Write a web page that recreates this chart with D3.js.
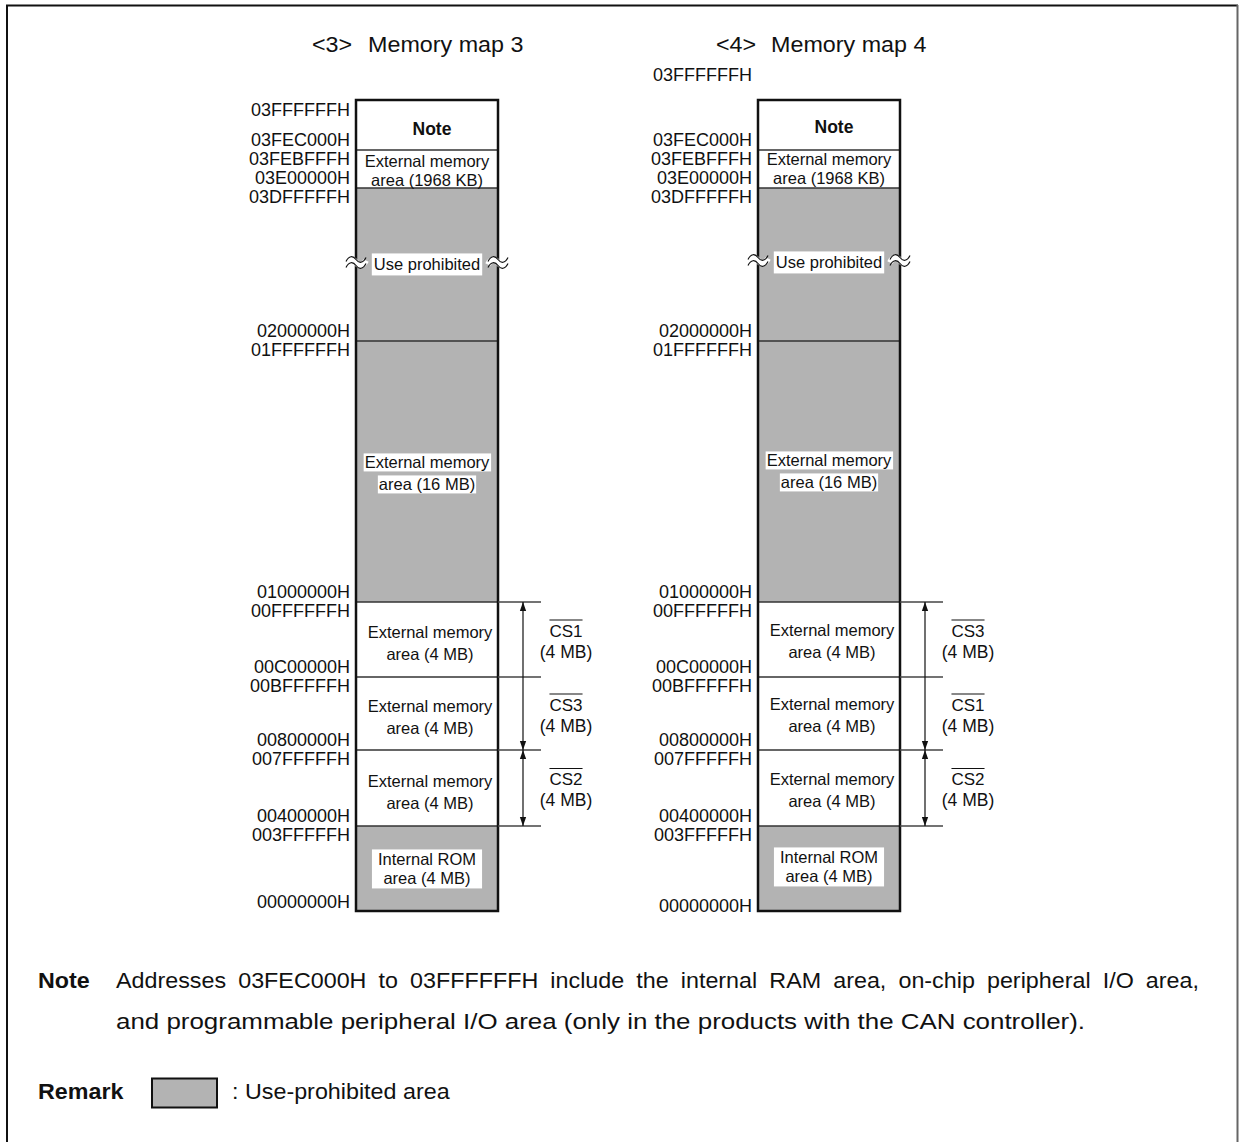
<!DOCTYPE html>
<html><head><meta charset="utf-8">
<script src="https://cdn.jsdelivr.net/npm/d3@7"></script>
<style>
body{margin:0;background:#fff}
text{font-family:"Liberation Sans",Arial,Helvetica,sans-serif;fill:#111}
</style>
</head><body>
<svg id="c" width="1239" height="1142"></svg>
<script>
// ---------------- data ----------------
const mapTags = ["<3>", "<4>"];
const mapNames = ["Memory map 3", "Memory map 4"];
const boundaries = [0x0000000, 0x0400000, 0x0800000, 0x0C00000, 0x1000000, 0x2000000, 0x3E00000, 0x3FEC000, 0x4000000];
const regionStarts = [0x0000000, 0x0400000, 0x0800000, 0x0C00000, 0x1000000, 0x2000000, 0x3E00000, 0x3FEC000];
const regionText = [
  ["Internal ROM", "area (4 MB)"],
  ["External memory", "area (4 MB)"],
  ["External memory", "area (4 MB)"],
  ["External memory", "area (4 MB)"],
  ["External memory", "area (16 MB)"],
  ["Use prohibited"],
  ["External memory", "area (1968 KB)"],
  ["Note"]
];
const regionProhibited = [true, false, false, false, true, true, false, false];
const csMap3 = [null, "CS2", "CS3", "CS1", null, null, null, null];
const csMap4 = [null, "CS2", "CS1", "CS3", null, null, null, null];
const csSizeText = "(4 MB)";
const csArrowSpans = [[0x0400000, 0x0800000], [0x0800000, 0x1000000]];
const noteLabel = "Note";
const noteLine1 = "Addresses 03FEC000H to 03FFFFFFH include the internal RAM area, on-chip peripheral I/O area,";
const noteLine2 = "and programmable peripheral I/O area (only in the products with the CAN controller).";
const remarkLabel = "Remark";
const remarkText = ": Use-prohibited area";

// ---------------- layout ----------------
const svg = d3.select("#c");
const GREY = "#b3b3b3";
const SX = 1.06; // horizontal stretch to mimic the wider original typeface
const hex = v => v.toString(16).toUpperCase().padStart(8, "0") + "H";

// Non-linear (piecewise) address scale - the memory map is drawn compressed
const y = d3.scaleLinear().domain(boundaries).range([911, 826, 750, 677, 602, 341, 188, 150, 100]);

// outer frame
svg.append("line").attr("x1", 7).attr("x2", 7).attr("y1", 5).attr("y2", 1142).attr("stroke", "#111").attr("stroke-width", 2);
svg.append("line").attr("x1", 6).attr("x2", 1238).attr("y1", 5.5).attr("y2", 5.5).attr("stroke", "#111").attr("stroke-width", 2);
svg.append("line").attr("x1", 1237.5).attr("x2", 1237.5).attr("y1", 5).attr("y2", 1142).attr("stroke", "#666").attr("stroke-width", 2);

const defs = svg.append("defs");
defs.append("marker").attr("id", "ah").attr("viewBox", "0 0 10 10").attr("refX", 10).attr("refY", 5)
  .attr("markerWidth", 9).attr("markerHeight", 9).attr("markerUnits", "userSpaceOnUse").attr("orient", "auto-start-reverse")
  .append("path").attr("d", "M0,1.5 L10,5 L0,8.5 Z").attr("fill", "#111");

// stretched text helper
function sText(parent, str, x, yBase, size, opts) {
  opts = opts || {};
  const g = parent.append("g").attr("transform", `translate(${x},${yBase}) scale(${opts.sx || SX},1)`);
  return g.append("text").attr("x", 0).attr("y", 0).attr("font-size", size)
    .attr("font-weight", opts.weight || "normal").attr("text-anchor", opts.anchor || "start").text(str);
}

const maps = [
  {tag: mapTags[0], name: mapNames[0], tagX: 312, nameX: 368, x0: 356, cs: csMap3, topLbl: 10, botLbl: -9, tshift: 0},
  {tag: mapTags[1], name: mapNames[1], tagX: 716, nameX: 771, x0: 758, cs: csMap4, topLbl: -25, botLbl: -5, tshift: -2}
];
const W = 142;

function centerText(g, str, cx, cy, size, weight) {
  return g.append("text").attr("x", cx).attr("y", cy + size * 0.36).attr("text-anchor", "middle")
    .attr("font-size", size).attr("font-weight", weight || "normal").text(str);
}
function bgRect(g, nodes, padX, padY) {
  let x1 = Infinity, y1 = Infinity, x2 = -Infinity, y2 = -Infinity;
  nodes.forEach(n => { const b = n.getBBox(); x1 = Math.min(x1, b.x); y1 = Math.min(y1, b.y); x2 = Math.max(x2, b.x + b.width); y2 = Math.max(y2, b.y + b.height); });
  g.insert("rect", "text").attr("x", x1 - padX).attr("y", y1 - padY).attr("width", x2 - x1 + 2 * padX).attr("height", y2 - y1 + 2 * padY).attr("fill", "#fff");
}
function wave(x, yc) {
  return `M${x-10},${yc+2} C${x-7},${yc-4} ${x-3},${yc-4} ${x},${yc} C${x+3},${yc+4} ${x+7},${yc+4} ${x+10},${yc-2}`;
}

maps.forEach(m => {
  const g = svg.append("g");
  const x0 = m.x0, cx = x0 + W / 2;
  sText(g, m.tag, m.tagX, 52, 22);
  sText(g, m.name, m.nameX, 52, 22);

  // region fills
  regionStarts.forEach((s, i) => {
    const e = boundaries[i + 1];
    g.append("rect").attr("x", x0).attr("y", y(e)).attr("width", W).attr("height", y(s) - y(e))
      .attr("fill", regionProhibited[i] ? GREY : "#fff");
  });
  // dividers
  boundaries.slice(1, -1).forEach(b => {
    g.append("line").attr("x1", x0).attr("x2", x0 + W).attr("y1", y(b)).attr("y2", y(b)).attr("stroke", "#333").attr("stroke-width", 1.3);
  });
  // outline
  g.append("rect").attr("x", x0).attr("y", y(boundaries[boundaries.length - 1])).attr("width", W)
    .attr("height", y(0) - y(boundaries[boundaries.length - 1])).attr("fill", "none").attr("stroke", "#111").attr("stroke-width", 2.5);

  // region texts
  regionStarts.forEach((s, i) => {
    const e = boundaries[i + 1];
    const mid = (y(s) + y(e)) / 2 + m.tshift;
    const lines = regionText[i];
    const tg = g.append("g");
    if (lines.length === 1 && lines[0] === "Note") {
      centerText(tg, "Note", cx + 5, mid + 4, 17.5, "bold");
    } else if (lines.length === 1) {
      const t = centerText(tg, lines[0], cx, mid, 16.5);
      bgRect(tg, [t.node()], 2, 2);
      // break marks
      [x0, x0 + W].forEach(bx => {
        g.append("path").attr("d", wave(bx, mid - 2)).attr("fill", "none").attr("stroke", "#fff").attr("stroke-width", 6);
        g.append("path").attr("d", wave(bx, mid - 5)).attr("fill", "none").attr("stroke", "#111").attr("stroke-width", 1.2);
        g.append("path").attr("d", wave(bx, mid + 1)).attr("fill", "none").attr("stroke", "#111").attr("stroke-width", 1.2);
      });
    } else {
      const h = y(s) - y(e);
      let d1, d2, tx = cx;
      if (h > 200) { d1 = -9; d2 = 13; }
      else if (i === 0) { d1 = -9; d2 = 10; }
      else if (h < 50) { d1 = -8; d2 = 11; }
      else { d1 = -7; d2 = 15; tx = cx + 3; }
      const t1 = centerText(tg, lines[0], tx, mid + d1, 16.5);
      const t2 = centerText(tg, lines[1], tx, mid + d2, 16.5);
      if (regionProhibited[i]) {
        if (i === 0) bgRect(tg, [t1.node(), t2.node()], 6, 1);
        else { bgRect(tg, [t1.node()], 1, 0); bgRect(tg, [t2.node()], 1, 0); }
      }
    }
  });

  // address labels
  const lx = x0 - 6;
  const lbl = (str, yy) => g.append("text").attr("x", lx).attr("y", yy + 18 * 0.36).attr("text-anchor", "end").attr("font-size", 18).text(str);
  const top = boundaries[boundaries.length - 1];
  lbl(hex(top - 1), y(top) + m.topLbl);
  boundaries.slice(1, -1).forEach(b => { lbl(hex(b), y(b) - 10); lbl(hex(b - 1), y(b) + 9); });
  lbl(hex(0), y(0) + m.botLbl);

  // chip-select brackets
  const ax = x0 + W + 25, extEnd = x0 + W + 43;
  const extAt = new Set();
  csArrowSpans.forEach(([a, b]) => { extAt.add(a); extAt.add(b); });
  regionStarts.forEach((s, i) => { if (m.cs[i]) { extAt.add(s); extAt.add(boundaries[i + 1]); } });
  extAt.forEach(b => g.append("line").attr("x1", x0 + W).attr("x2", extEnd).attr("y1", y(b)).attr("y2", y(b)).attr("stroke", "#444").attr("stroke-width", 1.3));
  csArrowSpans.forEach(([a, b]) => {
    g.append("line").attr("x1", ax).attr("x2", ax).attr("y1", y(a)).attr("y2", y(b)).attr("stroke", "#111").attr("stroke-width", 1.2)
      .attr("marker-start", "url(#ah)").attr("marker-end", "url(#ah)");
  });
  regionStarts.forEach((s, i) => {
    if (!m.cs[i]) return;
    const mid = (y(s) + y(boundaries[i + 1])) / 2;
    const lx2 = ax + 43;
    const t = centerText(g, m.cs[i], lx2, mid - 9, 17);
    const bb = t.node().getBBox();
    g.append("line").attr("x1", bb.x).attr("x2", bb.x + bb.width).attr("y1", mid - 19.5).attr("y2", mid - 19.5).attr("stroke", "#111").attr("stroke-width", 1.2);
    centerText(g, csSizeText, lx2, mid + 12, 17.5);
  });
});

// ---------------- note & remark ----------------
sText(svg, noteLabel, 38, 988, 22, {weight: "bold"});
(function justify(str, x, yy, width, size) {
  const g = svg.append("g").attr("transform", `translate(${x},${yy}) scale(${SX},1)`);
  const words = str.split(" ");
  const t = g.append("text").attr("y", 0).attr("font-size", size);
  const tmp = g.append("text").attr("font-size", size);
  const ws = words.map(w => { tmp.text(w); return tmp.node().getComputedTextLength(); });
  tmp.remove();
  const inner = width / SX;
  const gap = (inner - d3.sum(ws)) / (words.length - 1);
  let cur = 0;
  words.forEach((w, i) => { t.append("tspan").attr("x", cur).text(w); cur += ws[i] + gap; });
})(noteLine1, 116, 988, 1083, 22);
svg.append("text").attr("x", 116).attr("y", 1029).attr("font-size", 22).attr("textLength", 969).attr("lengthAdjust", "spacingAndGlyphs").text(noteLine2);

sText(svg, remarkLabel, 38, 1099, 22, {weight: "bold"});
svg.append("rect").attr("x", 152).attr("y", 1078.5).attr("width", 65).attr("height", 29).attr("fill", GREY).attr("stroke", "#111").attr("stroke-width", 2);
sText(svg, remarkText, 232, 1099, 22);
</script>
</body></html>
